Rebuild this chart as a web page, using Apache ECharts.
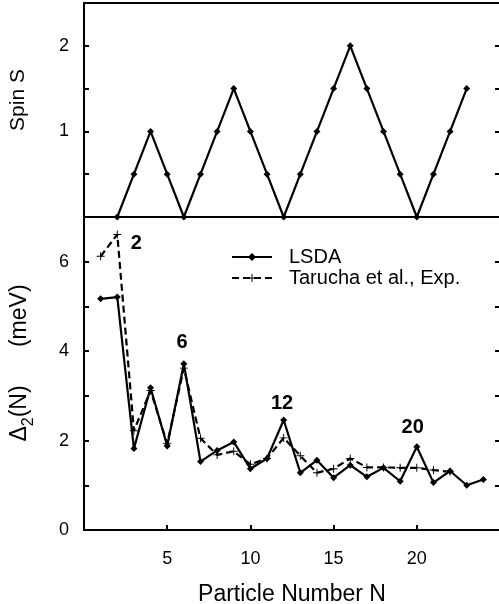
<!DOCTYPE html>
<html><head><meta charset="utf-8">
<script src="https://cdn.jsdelivr.net/npm/echarts@6/dist/echarts.min.js"></script>
<style>html,body{margin:0;padding:0;background:#fff}#c{width:499px;height:604px}</style>
</head><body><div id="c"></div>
<script>
// ---- data ----
const spinN = [2,3,4,5,6,7,8,9,10,11,12,13,14,15,16,17,18,19,20,21,22,23];
const spinS = [0,0.5,1,0.5,0,0.5,1,1.5,1,0.5,0,0.5,1,1.5,2,1.5,1,0.5,0,0.5,1,1.5];
const lsdaN = [1,2,3,4,5,6,7,8,9,10,11,12,13,14,15,16,17,18,19,20,21,22,23,24];
const lsdaD = [5.17,5.21,1.82,3.18,1.88,3.72,1.53,1.78,1.97,1.37,1.60,2.46,1.28,1.56,1.17,1.45,1.19,1.39,1.09,1.86,1.06,1.32,1.00,1.13];
const expN = [1,2,3,4,5,6,7,8,9,10,11,12,13,14,15,16,17,18,19,20,21,22];
const expD = [6.12,6.61,2.22,3.12,1.93,3.62,2.05,1.68,1.76,1.47,1.60,2.06,1.66,1.28,1.37,1.60,1.40,1.40,1.39,1.39,1.34,1.30];
const annoText = ['2','6','12','20'];
const annoX = [3.15,5.9,11.9,19.75];
const annoY = [6.4,4.2,2.84,2.3];
const xTickLabels = [5,10,15,20];
const spinTickLabels = [1,2];
const deltaTickLabels = [0,2,4,6];
const seriesNames = ['LSDA','Tarucha et al., Exp.'];

const FONT = 'Liberation Sans, Arial, Helvetica, sans-serif';
const zip = (a,b) => a.map((v,i)=>[v,b[i]]);
const plusPath = 'path://M-0.6,-5 L0.6,-5 L0.6,-0.6 L5,-0.6 L5,0.6 L0.6,0.6 L0.6,5 L-0.6,5 L-0.6,0.6 L-5,0.6 L-5,-0.6 L-0.6,-0.6 Z';

const chart = echarts.init(document.getElementById('c'), null, {renderer:'canvas'});
const tickStyle = {show:true, inside:true, length:5, lineStyle:{color:'#000', width:2}};
const noLine = {show:false};
function yLeft(grid, min, max, interval, labels){
  return {type:'value', gridIndex:grid, min, max, interval, position:'left',
    axisLine:noLine, axisTick:tickStyle, splitLine:{show:false},
    axisLabel:{show:true, margin:15, color:'#000', fontSize:18, fontFamily:FONT,
      formatter:v => labels.includes(v) ? String(v) : ''}};
}
function yRight(grid, min, max, interval){
  return {type:'value', gridIndex:grid, min, max, interval, position:'right',
    axisLine:noLine, axisTick:tickStyle, splitLine:{show:false}, axisLabel:{show:false}};
}
chart.setOption({
  animation:false,
  backgroundColor:'#fff',
  grid:[
    {left:84, top:3, width:416, height:214, show:true, borderColor:'#000', borderWidth:2, backgroundColor:'transparent', containLabel:false, outerBoundsMode:'none'},
    {left:84, top:217, width:416, height:313, show:true, borderColor:'#000', borderWidth:2, backgroundColor:'transparent', containLabel:false, outerBoundsMode:'none'}
  ],
  xAxis:[
    {type:'value', gridIndex:0, min:0, max:25, interval:5, axisLine:noLine, axisTick:{show:false}, axisLabel:{show:false}, splitLine:{show:false}},
    {type:'value', gridIndex:1, min:0, max:25, interval:5, axisLine:noLine, axisTick:tickStyle, splitLine:{show:false},
      axisLabel:{margin:20, color:'#000', fontSize:18, fontFamily:FONT, formatter:v => xTickLabels.includes(v) ? String(v) : ''},
      name:'Particle Number N', nameLocation:'middle', nameGap:53,
      nameTextStyle:{color:'#000', fontSize:23, fontFamily:FONT}}
  ],
  yAxis:[
    yLeft(0, 0, 2.5, 0.5, spinTickLabels),
    yRight(0, 0, 2.5, 0.5),
    yLeft(1, 0, 7, 1, deltaTickLabels),
    yRight(1, 0, 7, 1)
  ],
  legend:{
    orient:'vertical', left:226, top:242, itemWidth:40, itemHeight:10, itemGap:1,
    data:seriesNames,
    textStyle:{color:'#000', fontSize:20, lineHeight:20, fontFamily:FONT, padding:[0,0,0,12]}
  },
  graphic:[
    {type:'text', x:18, y:100, rotation:Math.PI/2,
      style:{text:'Spin S', fill:'#000', font:'21px '+FONT, textAlign:'center', textVerticalAlign:'middle'}},
    {type:'text', x:20, y:363, rotation:Math.PI/2,
      style:{text:'{d|Δ}{s|2}{d|(N)      (meV)}', textAlign:'center', textVerticalAlign:'middle',
        rich:{
          d:{fontSize:23, fontFamily:FONT, fill:'#000', lineHeight:34, verticalAlign:'middle'},
          s:{fontSize:16, fontFamily:FONT, fill:'#000', lineHeight:16, verticalAlign:'bottom'}
        }}}
  ],
  series:[
    {name:'Spin', type:'line', xAxisIndex:0, yAxisIndex:0, data:zip(spinN, spinS),
      symbol:'diamond', symbolSize:7, showSymbol:true, clip:false,
      lineStyle:{color:'#000', width:2.2}, itemStyle:{color:'#000'}},
    {name:seriesNames[0], type:'line', xAxisIndex:1, yAxisIndex:2, data:zip(lsdaN, lsdaD),
      symbol:'diamond', symbolSize:7, lineStyle:{color:'#000', width:2.2}, itemStyle:{color:'#000'}},
    {name:seriesNames[1], type:'line', xAxisIndex:1, yAxisIndex:2, data:zip(expN, expD),
      symbol:plusPath, symbolSize:8, lineStyle:{color:'#000', width:2.2, type:[7,4]}, itemStyle:{color:'#000'}},
    {name:'labels', type:'scatter', xAxisIndex:1, yAxisIndex:2, symbolSize:0,
      itemStyle:{opacity:1, color:'#000'},
      data:annoText.map((t,i)=>[annoX[i], annoY[i], t]),
      label:{show:true, position:'inside', formatter:p => p.value[2], color:'#000', opacity:1, textBorderWidth:0, fontSize:20, fontWeight:'bold', fontFamily:FONT}}
  ]
});
</script></body></html>
